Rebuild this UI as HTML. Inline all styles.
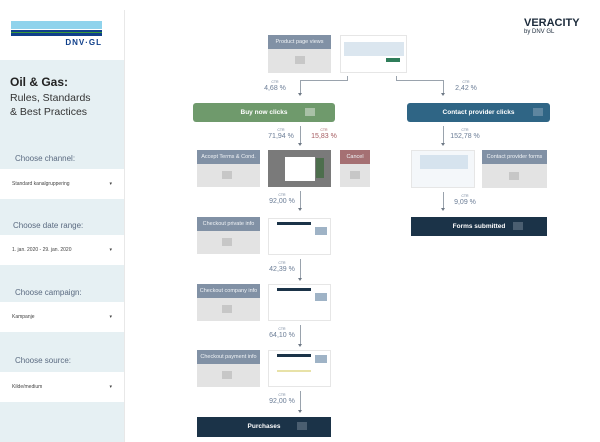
<!DOCTYPE html>
<html><head><meta charset="utf-8"><style>
*{margin:0;padding:0;box-sizing:border-box}
body{width:600px;height:442px;background:#fff;position:relative;overflow:hidden;font-family:"Liberation Sans",sans-serif}
.a{position:absolute}
.lab{position:absolute;font-size:8px;color:#5a6a80}
.sel{position:absolute;left:0;width:124px;height:30px;background:#fff;font-size:5px;color:#444;padding-left:12px;line-height:30px}
.sel:after{content:"▾";position:absolute;right:12px;font-size:5px}
.hd{position:absolute;background:#8191a5;color:#f0f3f6;font-size:5.5px;text-align:center;line-height:14px;white-space:nowrap}
.bd{position:absolute;background:#e3e3e3}
.blur{position:absolute;width:10px;height:8px;background:#c7c7c7}
.shot{position:absolute;background:#fff;border:1px solid #e6e6e6}
.ctr{position:absolute;text-align:center;color:#6b7d96;font-size:7px;line-height:8px;white-space:nowrap}
.ctr small{display:block;font-size:3.5px;line-height:5px}
.v{position:absolute;width:1px;background:#9aa3ad}
.h{position:absolute;height:1px;background:#9aa3ad}
.ar{position:absolute;width:0;height:0;border-left:2px solid transparent;border-right:2px solid transparent;border-top:3px solid #6e7885}
.btn{position:absolute;color:#fff;font-size:6.5px;font-weight:bold;text-align:center}
</style></head><body>
<div class="a" style="left:0;top:60px;width:124px;height:382px;background:#e6f0f3"></div>
<div class="a" style="left:124px;top:10px;width:1px;height:432px;background:#e8e8e8"></div>
<div class="a" style="left:11px;top:21px;width:91px;height:8px;background:#8fd3ec"></div>
<div class="a" style="left:11px;top:30px;width:91px;height:2px;background:#0f3f8a"></div>
<div class="a" style="left:11px;top:32px;width:91px;height:1px;background:#3a9a3a"></div>
<div class="a" style="left:11px;top:33px;width:91px;height:3px;background:#0f3f8a"></div>
<div class="a" style="left:52px;top:38px;width:50px;text-align:right;font-size:8px;font-weight:bold;color:#0f3f8a;letter-spacing:1px">DNV·GL</div>
<div class="a" style="left:10px;top:75px;font-size:12px;font-weight:bold;color:#222">Oil &amp; Gas:</div>
<div class="a" style="left:10px;top:91px;font-size:10.5px;color:#333;line-height:14px">Rules, Standards<br>&amp; Best Practices</div>
<div class="lab" style="left:15px;top:154px">Choose channel:</div>
<div class="sel" style="top:169px">Standard kanalgruppering</div>
<div class="lab" style="left:13px;top:221px">Choose date range:</div>
<div class="sel" style="top:235px">1. jan. 2020 - 29. jan. 2020</div>
<div class="lab" style="left:15px;top:288px">Choose campaign:</div>
<div class="sel" style="top:302px">Kampanje</div>
<div class="lab" style="left:15px;top:356px">Choose source:</div>
<div class="sel" style="top:372px">Kilde/medium</div>

<div class="a" style="left:524px;top:17px;font-size:11px;font-weight:bold;color:#1b2a3a">VERACITY</div>
<div class="a" style="left:524px;top:29px;font-size:6px;color:#1b2a3a">by DNV GL</div>

<div class="hd" style="left:268px;top:35px;width:63px">Product page views</div>
<div class="bd" style="left:268px;top:49px;width:63px;height:24px"></div><div class="blur" style="left:295px;top:56px"></div>
<div class="shot" style="left:340px;top:35px;width:67px;height:38px"><div class="a" style="left:3px;top:6px;width:60px;height:14px;background:#dbe6ef"></div><div class="a" style="left:45px;top:22px;width:14px;height:4px;background:#2f7d5a"></div></div>
<div class="h" style="left:300px;top:80px;width:48px"></div><div class="v" style="left:347px;top:76px;height:4px"></div>
<div class="v" style="left:300px;top:80px;height:13px"></div><div class="ar" style="left:298px;top:93px"></div>
<div class="h" style="left:396px;top:80px;width:48px"></div><div class="v" style="left:396px;top:76px;height:4px"></div>
<div class="v" style="left:443px;top:80px;height:13px"></div><div class="ar" style="left:441px;top:93px"></div>
<div class="ctr" style="left:256px;top:80px;width:38px"><small>CTR</small>4,68 %</div>
<div class="ctr" style="left:448px;top:80px;width:36px"><small>CTR</small>2,42 %</div>

<div class="btn" style="left:193px;top:103px;width:142px;height:19px;line-height:19px;background:#6f9a6c;border-radius:3px">Buy now clicks<div class="blur" style="left:112px;top:5px;background:#a9c1a7"></div></div>
<div class="btn" style="left:407px;top:103px;width:143px;height:19px;line-height:19px;background:#2f6585;border-radius:3px">Contact provider clicks<div class="blur" style="left:126px;top:5px;background:#5e86a0"></div></div>

<div class="v" style="left:300px;top:126px;height:17px"></div><div class="ar" style="left:298px;top:143px"></div>
<div class="ctr" style="left:264px;top:128px;width:34px"><small>CTR</small>71,94 %</div>
<div class="ctr" style="left:306px;top:128px;width:36px;color:#a45a5f"><small>CTR</small>15,83 %</div>
<div class="v" style="left:443px;top:126px;height:17px"></div><div class="ar" style="left:441px;top:143px"></div>
<div class="ctr" style="left:446px;top:128px;width:38px"><small>CTR</small>152,78 %</div>

<div class="hd" style="left:197px;top:150px;width:63px">Accept Terms &amp; Cond.</div>
<div class="bd" style="left:197px;top:164px;width:63px;height:23px"></div><div class="blur" style="left:222px;top:171px"></div>
<div class="a" style="left:268px;top:150px;width:63px;height:37px;background:#7a7a7a"><div class="a" style="left:17px;top:7px;width:30px;height:24px;background:#fff"></div><div class="a" style="left:48px;top:8px;width:8px;height:20px;background:#4d6e4d"></div></div>
<div class="hd" style="left:340px;top:150px;width:30px;background:#a57073">Cancel</div>
<div class="bd" style="left:340px;top:164px;width:30px;height:23px"></div><div class="blur" style="left:350px;top:171px"></div>

<div class="shot" style="left:411px;top:150px;width:64px;height:38px;background:#f4f7fa"><div class="a" style="left:8px;top:4px;width:48px;height:14px;background:#d6e3ee"></div></div>
<div class="hd" style="left:482px;top:150px;width:65px">Contact provider forms</div>
<div class="bd" style="left:482px;top:164px;width:65px;height:24px"></div><div class="blur" style="left:509px;top:172px"></div>

<div class="v" style="left:300px;top:191px;height:17px"></div><div class="ar" style="left:298px;top:208px"></div>
<div class="ctr" style="left:264px;top:193px;width:36px"><small>CTR</small>92,00 %</div>
<div class="v" style="left:443px;top:192px;height:16px"></div><div class="ar" style="left:441px;top:208px"></div>
<div class="ctr" style="left:448px;top:194px;width:34px"><small>CTR</small>9,09 %</div>
<div class="btn" style="left:411px;top:217px;width:136px;height:19px;line-height:19px;background:#1b3348">Forms submitted<div class="blur" style="left:102px;top:5px;background:#4a5e70"></div></div>

<div class="hd" style="left:197px;top:217px;width:63px">Checkout private info</div>
<div class="bd" style="left:197px;top:231px;width:63px;height:23px"></div><div class="blur" style="left:222px;top:238px"></div>
<div class="shot" style="left:268px;top:218px;width:63px;height:37px"><div class="a" style="left:8px;top:3px;width:34px;height:3px;background:#1b3348"></div><div class="a" style="left:46px;top:8px;width:12px;height:8px;background:#9fb3c6"></div></div>
<div class="v" style="left:300px;top:259px;height:19px"></div><div class="ar" style="left:298px;top:278px"></div>
<div class="ctr" style="left:264px;top:261px;width:36px"><small>CTR</small>42,39 %</div>

<div class="hd" style="left:197px;top:284px;width:63px">Checkout company info</div>
<div class="bd" style="left:197px;top:298px;width:63px;height:23px"></div><div class="blur" style="left:222px;top:305px"></div>
<div class="shot" style="left:268px;top:284px;width:63px;height:37px"><div class="a" style="left:8px;top:3px;width:34px;height:3px;background:#1b3348"></div><div class="a" style="left:46px;top:8px;width:12px;height:8px;background:#9fb3c6"></div></div>
<div class="v" style="left:300px;top:325px;height:19px"></div><div class="ar" style="left:298px;top:344px"></div>
<div class="ctr" style="left:264px;top:327px;width:36px"><small>CTR</small>64,10 %</div>

<div class="hd" style="left:197px;top:350px;width:63px">Checkout payment info</div>
<div class="bd" style="left:197px;top:364px;width:63px;height:23px"></div><div class="blur" style="left:222px;top:371px"></div>
<div class="shot" style="left:268px;top:350px;width:63px;height:37px"><div class="a" style="left:8px;top:3px;width:34px;height:3px;background:#1b3348"></div><div class="a" style="left:46px;top:4px;width:12px;height:8px;background:#9fb3c6"></div><div class="a" style="left:8px;top:19px;width:34px;height:2px;background:#e8e2a8"></div></div>
<div class="v" style="left:300px;top:391px;height:19px"></div><div class="ar" style="left:298px;top:410px"></div>
<div class="ctr" style="left:264px;top:393px;width:36px"><small>CTR</small>92,00 %</div>

<div class="btn" style="left:197px;top:417px;width:134px;height:20px;line-height:20px;background:#1b3348">Purchases<div class="blur" style="left:100px;top:5px;background:#4a5e70"></div></div>
</body></html>
